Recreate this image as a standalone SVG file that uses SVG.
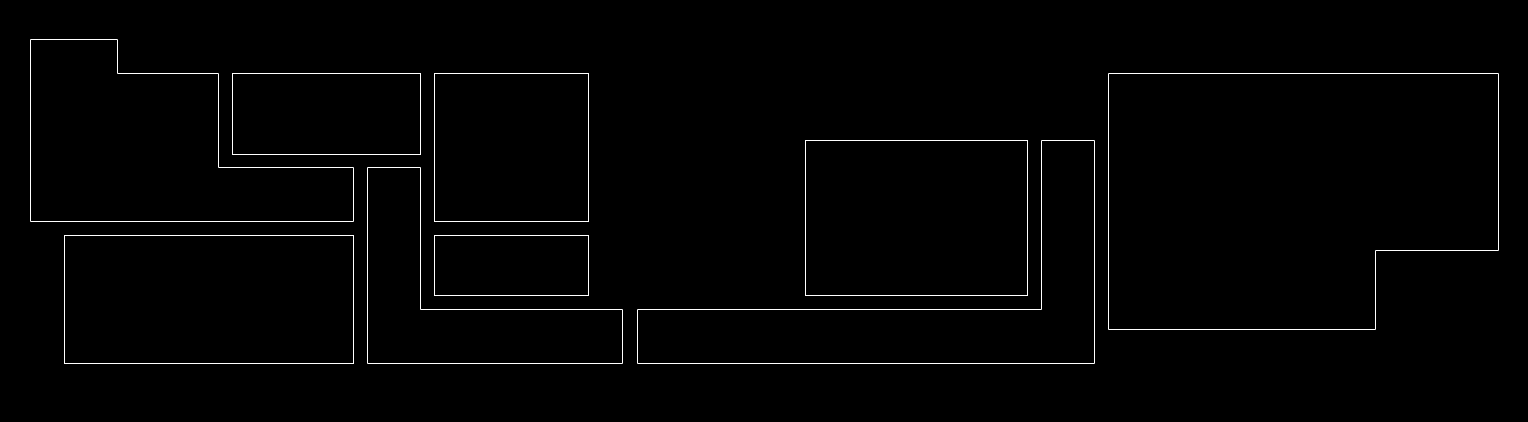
<svg xmlns="http://www.w3.org/2000/svg" width="1528" height="422" viewBox="0 0 1528 422">
<style>
.room{fill:none;stroke:#ffffff;stroke-width:1}
</style>
<rect x="0" y="0" width="1528" height="422" fill="#000000"/>
<g transform="translate(0.5,0.5)">
<g id="room-a"><polygon class="room" points="30,39 117,39 117,73 218,73 218,167 353,167 353,221 30,221"/></g>
<g id="room-b"><rect class="room" x="232" y="73" width="188" height="81"/></g>
<g id="room-c"><rect class="room" x="434" y="73" width="154" height="148"/></g>
<g id="room-d"><rect class="room" x="64" y="235" width="289" height="128"/></g>
<g id="room-e"><polygon class="room" points="367,167 420,167 420,309 622,309 622,363 367,363"/></g>
<g id="room-f"><rect class="room" x="434" y="235" width="154" height="60"/></g>
<g id="room-g"><rect class="room" x="805" y="140" width="222" height="155"/></g>
<g id="room-h"><polygon class="room" points="1041,140 1094,140 1094,363 637,363 637,309 1041,309"/></g>
<g id="room-i"><polygon class="room" points="1108,73 1498,73 1498,250 1375,250 1375,329 1108,329"/></g>
</g>
</svg>
